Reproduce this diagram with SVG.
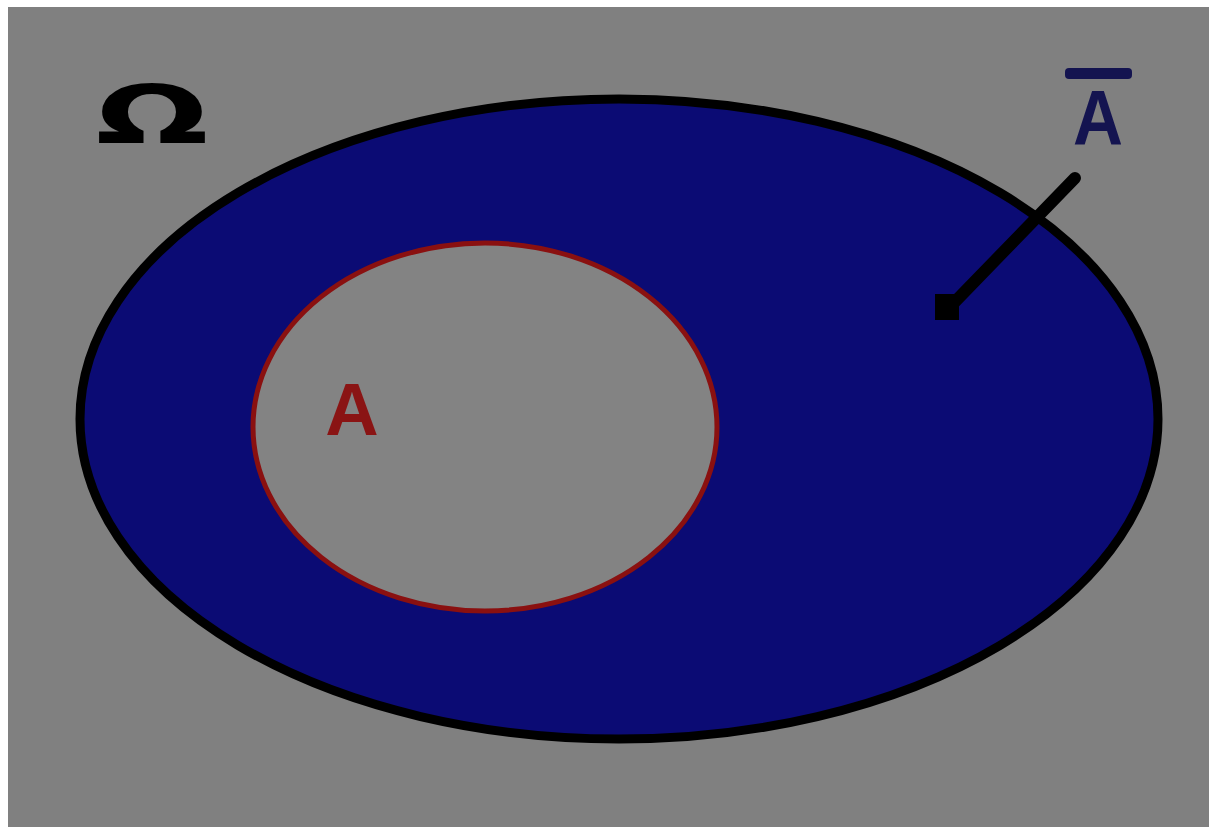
<svg xmlns="http://www.w3.org/2000/svg" width="1209" height="827" viewBox="0 0 1209 827">
<style>
.lbl{font-family:"Liberation Sans",Arial,sans-serif;font-weight:bold}
.sym{font-family:"DejaVu Sans",sans-serif;font-weight:bold}
</style>
<rect x="0" y="0" width="1209" height="827" fill="#ffffff"/>
<rect x="8" y="7" width="1201" height="820" fill="#808080"/>
<g id="omega">
<text class="sym" x="152" y="143" font-size="80" text-anchor="middle" textLength="113" lengthAdjust="spacingAndGlyphs" fill="#000">Ω</text>
</g>
<g id="complement">
<ellipse cx="619" cy="419" rx="539" ry="320" fill="#0b0b74" stroke="#000" stroke-width="9"/>
</g>
<g id="setA">
<ellipse cx="485" cy="427" rx="232" ry="184" fill="#838383" stroke="#8a1010" stroke-width="5"/>
<text class="lbl" x="352" y="435" font-size="74" text-anchor="middle" fill="#8a1414">A</text>
</g>
<g id="label-Abar">
<rect x="1065" y="68" width="67" height="11" rx="4" fill="#141450"/>
<text class="lbl" x="1098" y="145" font-size="78" text-anchor="middle" textLength="50" lengthAdjust="spacingAndGlyphs" fill="#141450">A</text>
</g>
<g id="connectors">
<line x1="1075" y1="178" x2="947" y2="310" stroke="#000" stroke-width="12" stroke-linecap="round"/>
<rect x="935" y="294" width="24" height="26" fill="#000"/>
</g>
</svg>
